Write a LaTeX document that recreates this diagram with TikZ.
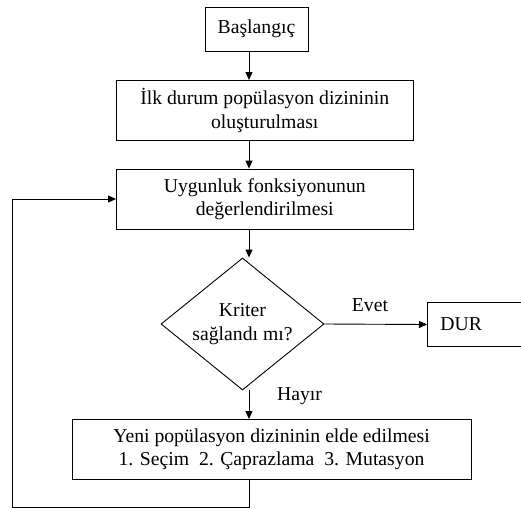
\documentclass[tikz,border=0pt]{standalone}
\usepackage{fontspec}
\setmainfont{Liberation Serif}
\usetikzlibrary{shapes.geometric,arrows.meta}
\tikzset{
  box/.style={draw, line width=0.9pt, inner sep=0pt, align=center, font=\fontsize{19.7}{23.5}\selectfont},
  lbl/.style={inner sep=0pt, font=\fontsize{19.7}{23.5}\selectfont},
  conn/.style={draw, line width=0.9pt, -{Triangle[length=8pt,width=7pt]}},
  plain/.style={draw, line width=0.9pt}
}
\begin{document}
\begin{tikzpicture}[x=1pt,y=-1pt]
\useasboundingbox (0,0) rectangle (521,508);
\clip (0,0) rectangle (521,508);
\coordinate (col) at (249,0);
\node[box, minimum width=103pt, minimum height=44.5pt] (b1) at (256.5,29.25) {Başlangıç};
\node[box, minimum width=296.5pt, minimum height=59.5pt] (b2) at (264.75,110.25) {İlk durum popülasyon dizininin\\oluşturulması};
\node[box, minimum width=296.5pt, minimum height=60pt] (b3) at (264.75,199) {Uygunluk fonksiyonunun\\değerlendirilmesi};
\node[box, diamond, aspect=1.235, minimum width=163pt, minimum height=132pt] (crit) at (242.5,324) {Kriter\\sağlandı mı?};
\node[box, anchor=west, minimum width=110pt, minimum height=44pt, text width=84pt, align=left, inner xsep=13pt] (dur) at (427,324.5) {DUR};
\node[box, minimum width=399pt, minimum height=59.5pt] (b4) at (271.5,449.25) {Yeni popülasyon dizininin elde edilmesi\\1. Seçim\ \ 2. Çaprazlama\ \ 3. Mutasyon};
\node[lbl] (evet) at (370,305) {Evet};
\node[lbl] (hayir) at (299.5,396) {Hayır};
\coordinate (lb) at (12.7,507);
\draw[conn] (b1.south -| col) -- (b2.north -| col);
\draw[conn] (b2.south -| col) -- (b3.north -| col);
\draw[conn] (b3.south -| col) -- (crit.north -| col);
\draw[conn] (crit.east) -- (dur.west);
\draw[conn] (crit.south -| col) -- (b4.north -| col);
\draw[conn] (b4.south -| col) |- (lb) |- (b3.west);
\end{tikzpicture}
\end{document}
